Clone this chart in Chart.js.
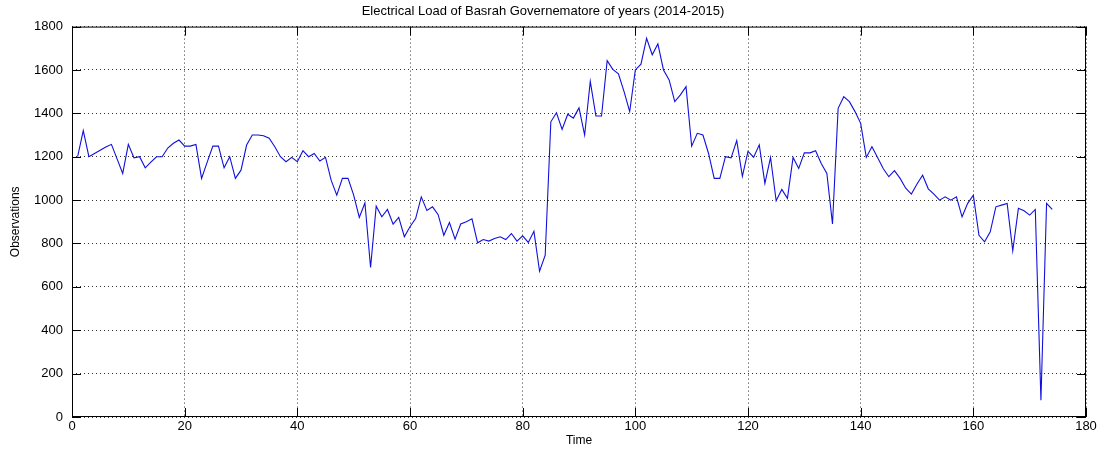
<!DOCTYPE html>
<html>
<head>
  <title>Electrical Load of Basrah</title>
  <script src="https://cdn.jsdelivr.net/npm/chart.js"></script>
  <style>
    body { margin: 0; background: #fff; }
  </style>
</head>
<body>
  <canvas id="chart" width="1103" height="449"></canvas>
  <script>
    // load values, one per time step (1..174)
    const load = [
      1200, 1320, 1200, 1215, 1230, 1245, 1257, 1190, 1123, 1257,
      1195, 1200, 1149, 1175, 1200, 1200, 1240, 1262, 1277, 1249,
      1249, 1257, 1100, 1175, 1249, 1249, 1149, 1200, 1100, 1138,
      1254, 1300, 1300, 1297, 1285, 1246, 1200, 1177, 1197, 1177,
      1228, 1200, 1215, 1180, 1197, 1092, 1023, 1100, 1100, 1023,
      920, 987, 689, 972, 923, 957, 889, 920, 831, 877,
      915, 1015, 952, 969, 933, 838, 897, 820, 890, 900,
      914, 803, 818, 811, 823, 831, 818, 846, 811, 835,
      805, 856, 672, 746, 1361, 1403, 1326, 1396, 1378, 1425,
      1300, 1547, 1388, 1388, 1643, 1603, 1582, 1500, 1408, 1600,
      1627, 1746, 1670, 1720, 1600, 1554, 1454, 1485, 1523, 1249,
      1308, 1300, 1215, 1100, 1100, 1200, 1195, 1274, 1110, 1225,
      1198, 1255, 1077, 1197, 997, 1049, 1008, 1197, 1146, 1218,
      1218, 1228, 1169, 1123, 890, 1423, 1477, 1454, 1408, 1354,
      1197, 1246, 1197, 1146, 1108, 1136, 1100, 1055, 1028, 1074,
      1115, 1052, 1028, 1000, 1015, 1000, 1015, 923, 985, 1023,
      838, 808, 854, 969, 977, 985, 766, 962, 951, 931,
      957, 77, 985, 957
    ];
    const time = load.map((_, i) => i + 1);

    const xTicks = [0, 20, 40, 60, 80, 100, 120, 140, 160, 180];
    const yTicks = [0, 200, 400, 600, 800, 1000, 1200, 1400, 1600, 1800];

    // matlab style box with inward tick marks
    const frame = {
      id: 'frame',
      afterDraw(chart) {
        const { ctx, chartArea: a, scales: { x, y } } = chart;
        const len = 9;
        ctx.save();
        ctx.strokeStyle = '#000';
        ctx.lineWidth = 1;
        ctx.strokeRect(a.left + 0.5, a.top + 0.5, a.width - 1, a.height - 1);
        ctx.beginPath();
        xTicks.forEach(v => {
          const px = Math.round(x.getPixelForValue(v)) + 0.5;
          ctx.moveTo(px, a.bottom); ctx.lineTo(px, a.bottom - len);
          ctx.moveTo(px, a.top); ctx.lineTo(px, a.top + len);
        });
        yTicks.forEach(v => {
          const py = Math.round(y.getPixelForValue(v)) + 0.5;
          ctx.moveTo(a.left, py); ctx.lineTo(a.left + len, py);
          ctx.moveTo(a.right, py); ctx.lineTo(a.right - len, py);
        });
        ctx.stroke();
        ctx.restore();
      }
    };

    const font = "'Liberation Sans', Arial, sans-serif";

    new Chart(document.getElementById('chart'), {
      type: 'line',
      data: {
        datasets: [{
          label: 'Load',
          data: time.map((t, i) => ({ x: t, y: load[i] })),
          borderColor: '#1010dd',
          borderWidth: 1.1,
          pointRadius: 0,
          fill: false,
          tension: 0
        }]
      },
      options: {
        responsive: false,
        animation: false,
        devicePixelRatio: 1,
        layout: { padding: { left: 0, right: 17, top: 0, bottom: 0 } },
        plugins: {
          legend: { display: false },
          tooltip: { enabled: false },
          title: {
            display: true,
            text: 'Electrical Load of Basrah Governematore of years (2014-2015)',
            color: '#000',
            font: { family: font, size: 13, weight: 'normal' },
            padding: { top: 4, bottom: 7 }
          }
        },
        scales: {
          x: {
            type: 'linear',
            min: 0,
            max: 180,
            afterBuildTicks: s => { s.ticks = xTicks.map(v => ({ value: v })); },
            afterFit: s => { s.height = 32; },
            ticks: { color: '#000', padding: 2, font: { family: font, size: 13 }, callback: v => String(v) },
            grid: { color: '#333', drawTicks: false },
            border: { display: false, dash: [1, 3] },
            title: {
              display: true,
              text: 'Time',
              color: '#000',
              padding: 1,
              font: { family: font, size: 12 }
            }
          },
          y: {
            min: 0,
            max: 1800,
            afterBuildTicks: s => { s.ticks = yTicks.map(v => ({ value: v })); },
            afterFit: s => { s.width = 72; },
            ticks: { color: '#000', padding: 9, font: { family: font, size: 13 }, callback: v => String(v) },
            grid: { color: '#333', drawTicks: false },
            border: { display: false, dash: [1, 3] },
            title: {
              display: true,
              text: 'Observations',
              color: '#000',
              padding: 8,
              font: { family: font, size: 12 }
            }
          }
        }
      },
      plugins: [frame]
    });
  </script>
</body>
</html>
